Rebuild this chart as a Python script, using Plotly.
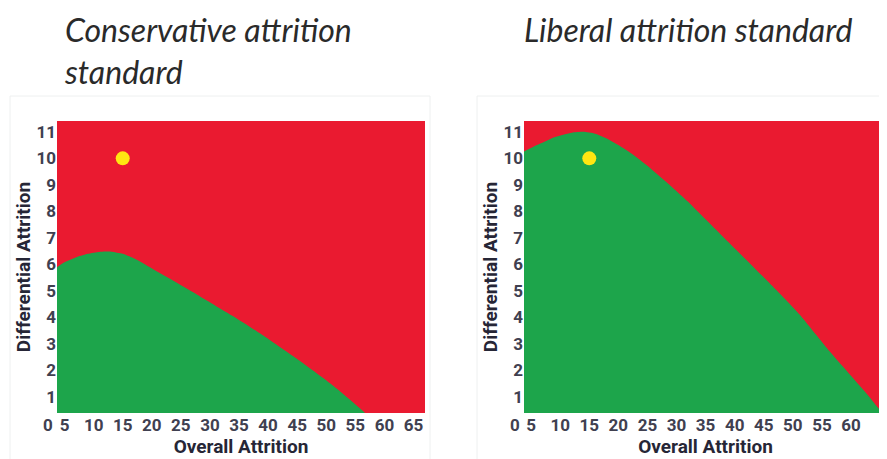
import plotly.graph_objects as go

# ---- data ----
titles = ["Conservative attrition<br>standard", "Liberal attrition standard"]

overall_cons = [3.6, 5.0, 7.0, 9.0, 11.0, 13.0, 15.0, 17.0, 19.0, 22.6, 28.3, 34.0, 39.8, 45.5, 51.2, 56.4, 58.5]
diff_cons = [5.88, 6.08, 6.27, 6.40, 6.47, 6.48, 6.40, 6.22, 5.98, 5.52, 4.79, 4.04, 3.22, 2.35, 1.42, 0.45, 0.0]

overall_lib = [3.7, 6.0, 9.0, 12.0, 14.0, 16.0, 18.0, 20.0, 22.6, 25.4, 28.3, 31.8, 34.0, 39.8, 45.5, 49.0, 51.2, 56.4, 62.7, 65.0, 67.0]
diff_lib = [10.25, 10.5, 10.8, 10.97, 11.0, 10.93, 10.75, 10.5, 10.13, 9.65, 9.1, 8.4, 7.92, 6.65, 5.4, 4.62, 4.1, 2.7, 1.12, 0.5, 0.0]

study_overall = [15]
study_diff = [10]

x_ticks = [5, 10, 15, 20, 25, 30, 35, 40, 45, 50, 55, 60, 65]
y_ticks = [1, 2, 3, 4, 5, 6, 7, 8, 9, 10, 11]

RED = "#EA1A30"
GREEN = "#1DA54B"
YELLOW = "#FFE612"

# page body has an 8px margin; figure covers the rest of the 887x459 window
OFF = 8
W, H = 887 - OFF, 459 - OFF

def px_x(p):
    return (p - OFF) / W

def px_y(p):
    return 1 - (p - OFF) / H

FAM = "Roboto, Liberation Sans, Arial, sans-serif"
tick_font = dict(family=FAM, size=17, color="#404050", weight="bold")
title_font = dict(family=FAM, size=19, color="#262636", weight="bold")

fig = go.Figure()

for i, (xs, ys) in enumerate([(overall_cons, diff_cons), (overall_lib, diff_lib)]):
    sfx = "" if i == 0 else str(i + 1)
    fig.add_trace(go.Scatter(
        x=xs, y=ys, mode="lines", fill="tozeroy", fillcolor=GREEN,
        line=dict(width=0, color=GREEN, shape="spline", smoothing=0.5),
        xaxis="x" + sfx, yaxis="y" + sfx, showlegend=False, hoverinfo="skip"))
    fig.add_trace(go.Scatter(
        x=study_overall, y=study_diff, mode="markers",
        marker=dict(size=14, color=YELLOW, line=dict(width=0)),
        xaxis="x" + sfx, yaxis="y" + sfx, showlegend=False))

ydom = [px_y(413), px_y(121)]

def xaxis(dom, rng, anchor):
    return dict(domain=dom, range=rng, tickvals=x_ticks, showgrid=False, zeroline=False,
                showline=False, ticks="", tickfont=tick_font, fixedrange=True, anchor=anchor,
                title=dict(text="Overall Attrition", font=title_font, standoff=3))

def yaxis(anchor, rng):
    return dict(domain=ydom, range=rng, tickvals=y_ticks, showgrid=False, zeroline=False,
                showline=False, ticks="", tickfont=tick_font, anchor=anchor, fixedrange=True,
                title=dict(text="Differential Attrition", font=title_font, standoff=0))

fig.update_layout(
    width=W, height=H,
    margin=dict(l=0, r=0, t=0, b=0),
    paper_bgcolor="white", plot_bgcolor=RED,
    xaxis=xaxis([px_x(57), px_x(425)], [3.7, 66.98], "y"),
    yaxis=yaxis("x", [0.39, 11.41]),
    xaxis2=xaxis([px_x(524), 1.0], [3.77, 66.2], "y2"),
    yaxis2=yaxis("x2", [0.39, 11.41]),
)

# faint panel frames
for x0, x1 in [(10, 430), (477, 900)]:
    fig.add_shape(type="rect", xref="paper", yref="paper",
                  x0=px_x(x0), x1=px_x(x1), y0=-0.05, y1=px_y(96),
                  line=dict(color="#EEF0F0", width=1), fillcolor="rgba(0,0,0,0)", layer="below")

# panel titles
for txt, xp in zip(titles, [62, 522]):
    fig.add_annotation(text=txt, xref="paper", yref="paper", x=px_x(xp), y=px_y(8),
                       xanchor="left", yanchor="top", align="left", showarrow=False,
                       font=dict(family="Lato, Open Sans, sans-serif", size=32,
                                 color="#2a2a2a", style="italic"))

# shared origin "0" labels
for xp in [48, 515]:
    fig.add_annotation(text="0", xref="paper", yref="paper", x=px_x(xp), y=px_y(425),
                       xanchor="center", yanchor="middle", showarrow=False, font=tick_font)

fig.write_html("out.html")
